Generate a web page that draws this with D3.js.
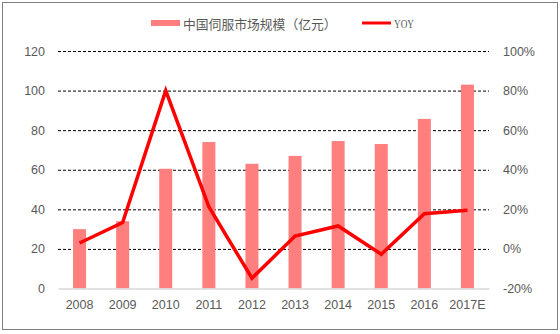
<!DOCTYPE html>
<html><head><meta charset="utf-8">
<script src="https://cdn.jsdelivr.net/npm/d3@7"></script>
<style>html,body{margin:0;padding:0;background:#fff;}</style>
</head><body>
<svg id="c" width="560" height="334"></svg>
<script>
const categories = ["2008","2009","2010","2011","2012","2013","2014","2015","2016","2017E"];
const marketSize = [30, 34, 60.5, 74, 63, 67, 74.5, 73, 85.7, 103];
const yoy = [3, 13.3, 80, 21.3, -14.8, 6.5, 11.6, -2.7, 17.8, 19.5];
const leftTicks = [0, 20, 40, 60, 80, 100, 120];
const rightTicks = [-20, 0, 20, 40, 60, 80, 100];
const barLabel = "中国伺服市场规模（亿元）";
const lineLabel = "YOY";

const svg = d3.select("#c");
const L = 58, R = 489, T = 51, B = 288.5;
const textColor = "#595959";

svg.append("rect").attr("x", 2.5).attr("y", 2.5).attr("width", 555).attr("height", 327)
  .attr("fill", "#fff").attr("stroke", "#7f7f7f").attr("stroke-width", 1);

const x = d3.scaleBand().domain(categories).range([L, R]);
const yL = d3.scaleLinear().domain([0, 120]).range([B, T]);
const yR = d3.scaleLinear().domain([-20, 100]).range([B, T]);

// grid
const grid = svg.append("g")
  .attr("transform", `translate(${L},0)`)
  .call(d3.axisLeft(yL).tickValues(leftTicks.filter(d => d > 0)).tickSize(-(R - L)).tickFormat(""));
grid.select(".domain").remove();
grid.selectAll("line").attr("stroke", "#000").attr("stroke-dasharray", "3,2").attr("stroke-width", 1);

// left axis labels
const la = svg.append("g").attr("transform", `translate(${L},0)`)
  .call(d3.axisLeft(yL).tickValues(leftTicks).tickSize(0).tickPadding(13));
la.select(".domain").remove();
la.selectAll("text").attr("fill", textColor).style("font-family", "Liberation Sans, Arial, sans-serif").style("font-size", "12.5px");

// right axis labels
const ra = svg.append("g").attr("transform", `translate(${R},0)`)
  .call(d3.axisRight(yR).tickValues(rightTicks).tickSize(0).tickPadding(14).tickFormat(d => d + "%"));
ra.select(".domain").remove();
ra.selectAll("text").attr("fill", textColor).style("font-family", "Liberation Sans, Arial, sans-serif").style("font-size", "12.5px");

// bars
const bw = 13;
svg.append("g").selectAll("rect").data(categories).join("rect")
  .attr("x", (d) => x(d) + x.bandwidth() / 2 - bw / 2)
  .attr("y", (d, i) => yL(marketSize[i]))
  .attr("width", bw)
  .attr("height", (d, i) => B - yL(marketSize[i]))
  .attr("fill", "#FF7F7F");

// x axis
const xa = svg.append("g").attr("transform", `translate(0,${B})`)
  .call(d3.axisBottom(x).tickSize(0).tickPadding(12));
xa.select(".domain").attr("stroke", "#d9d9d9").attr("stroke-width", 1.5);
xa.selectAll("text").attr("fill", textColor).style("font-family", "Liberation Sans, Arial, sans-serif").style("font-size", "12.5px");

// line
const line = d3.line().x((d, i) => x(categories[i]) + x.bandwidth() / 2).y(d => yR(d));
svg.append("path").datum(yoy).attr("d", line)
  .attr("fill", "none").attr("stroke", "#FF0000").attr("stroke-width", 3.5).attr("stroke-linejoin", "miter");

// legend
const lg = svg.append("g");
lg.append("rect").attr("x", 151).attr("y", 20).attr("width", 29).attr("height", 6).attr("fill", "#FF7F7F");
lg.append("text").attr("x", 183).attr("y", 28.5).text(barLabel)
  .attr("fill", textColor).style("font-family", "Noto Sans CJK SC, sans-serif").style("font-size", "12.8px");
lg.append("line").attr("x1", 362).attr("x2", 391).attr("y1", 23).attr("y2", 23)
  .attr("stroke", "#FF0000").attr("stroke-width", 3);
lg.append("text").attr("x", 394).attr("y", 28).text(lineLabel)
  .attr("fill", textColor).attr("textLength", 20).attr("lengthAdjust", "spacingAndGlyphs")
  .style("font-family", "Liberation Serif, serif").style("font-size", "12px");
</script>
</body></html>
